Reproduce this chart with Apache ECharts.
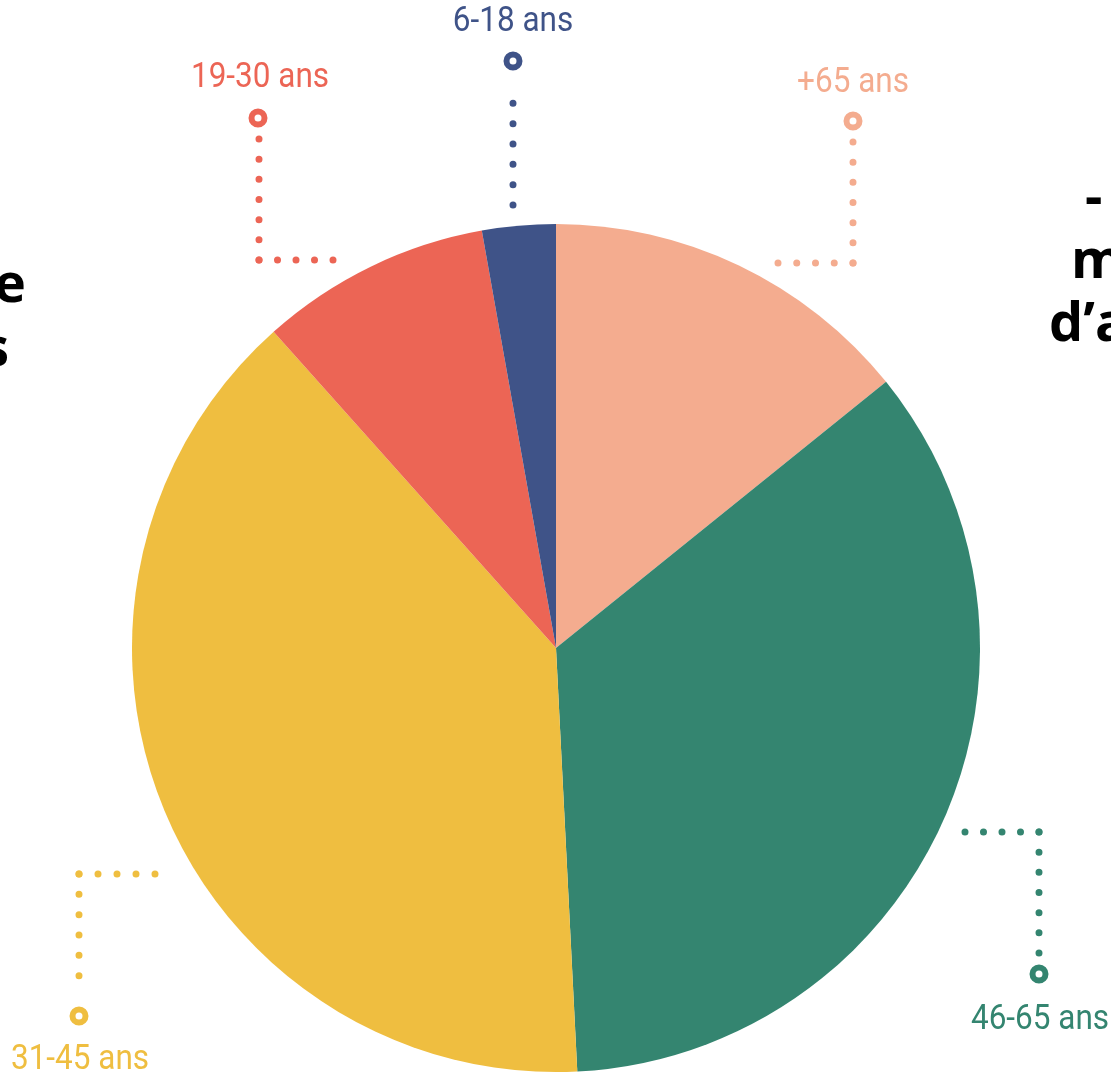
<!DOCTYPE html>
<html>
<head>
<meta charset="utf-8">
<script src="https://cdn.jsdelivr.net/npm/echarts@6/dist/echarts.min.js"></script>
<style>
html,body{margin:0;padding:0;background:#fff;}
#chart{width:1111px;height:1077px;}
</style>
</head>
<body>
<div id="chart"></div>
<script>
// Data
var categories = ['+65 ans', '46-65 ans', '31-45 ans', '19-30 ans', '6-18 ans'];
var shares = [14.2, 35.0, 39.2, 8.8, 2.8];
var colors = ['#F4AC8F', '#348570', '#EFBE40', '#EC6555', '#3F5388'];

// Annotation layout (leader lines, markers, labels)
var leaders = [
  {corner:[853,263], h:[778,263], hn:4, v:[853,142], vn:6, ring:[853,121], label:[853,83]},
  {corner:[1039,832], h:[965,832], hn:4, v:[1039,953], vn:6, ring:[1039,974], label:[1040,1020]},
  {corner:[79,874], h:[155,874], hn:4, v:[79,996], vn:6, ring:[79,1016], label:[80,1060]},
  {corner:[259,260], h:[333,260], hn:4, v:[259,139], vn:6, ring:[258,118], label:[260,78]},
  {corner:[513,205], h:null, hn:0, v:[513,83], vn:6, ring:[513,61], label:[513,22]}
];

var labelFont = '35px "Roboto", "Liberation Sans", sans-serif';

function dotted(p0, p1, n, color) {
  var len = Math.hypot(p1[0]-p0[0], p1[1]-p0[1]);
  var gap = len / n;
  return {
    type: 'line',
    shape: {x1:p0[0], y1:p0[1], x2:p1[0], y2:p1[1]},
    style: {stroke: color, lineWidth: 7, lineCap: 'round', lineDash: [0.01, gap - 0.01]},
    silent: true
  };
}

var graphics = [];
leaders.forEach(function (L, i) {
  var c = colors[i];
  if (L.h) graphics.push(dotted(L.corner, L.h, L.hn, c));
  graphics.push(dotted(L.corner, L.v, L.vn, c));
  graphics.push({
    type: 'circle', shape: {cx: L.ring[0], cy: L.ring[1], r: 6.5},
    style: {fill: '#fff', stroke: c, lineWidth: 6}, silent: true
  });
  graphics.push({
    type: 'text', x: L.label[0], y: L.label[1], scaleX: 0.9,
    style: {text: categories[i], fill: c, font: labelFont, align: 'center', verticalAlign: 'middle'},
    silent: true
  });
});

// cut-off slide text at the edges
var edgeFont = 'bold 54px "Open Sans", "Lato", sans-serif';
var edgeTexts = [
  {t:'e', x:26, y:260, align:'right'},
  {t:'s', x:9, y:324, align:'right'},
  {t:'-', x:1085, y:173, align:'left'},
  {t:'m', x:1071, y:236, align:'left'},
  {t:'d\u2019a', x:1049, y:299, align:'left'}
];
edgeTexts.forEach(function (e) {
  graphics.push({
    type: 'text', x: e.x, y: e.y,
    style: {text: e.t, fill: '#000', font: edgeFont, align: e.align, verticalAlign: 'top'},
    silent: true
  });
});

var chart = echarts.init(document.getElementById('chart'));
chart.setOption({
  backgroundColor: '#fff',
  animation: false,
  series: [{
    type: 'pie',
    center: [556, 648],
    radius: [0, 424],
    startAngle: 90,
    clockwise: true,
    label: {show: false},
    labelLine: {show: false},
    itemStyle: {borderWidth: 0},
    emphasis: {disabled: true},
    data: categories.map(function (n, i) {
      return {name: n, value: shares[i], itemStyle: {color: colors[i]}};
    })
  }],
  graphic: graphics
});
</script>
</body>
</html>
